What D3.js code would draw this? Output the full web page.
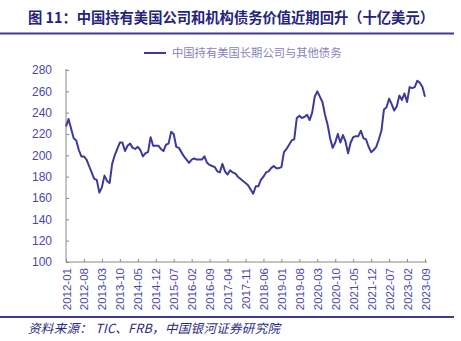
<!DOCTYPE html>
<html><head><meta charset="utf-8">
<script src="https://cdn.jsdelivr.net/npm/d3@7"></script>
<style>body{margin:0;background:#fff;} svg{display:block;}</style>
</head><body><svg id="c" width="461" height="341"></svg>
<script>
const title = "图 11：中国持有美国公司和机构债务价值近期回升（十亿美元）";
const seriesName = "中国持有美国长期公司与其他债务";
const source = "资料来源：  TIC、FRB，中国银河证券研究院";
const startYear = 2012, startMonth = 1;
const values = [
  227,234,225,216,214,205,199,199,196,190,184,178,
  177,165,170,181,176,174,192,200,206,212,212,204,
  209,211,207,206,208,205,199,202,203,217,209,209,
  209,206,204,210,211,222,220,208,207,203,199,196,
  193,196,197,196,196,196,199,193,191,190,189,185,
  184,192,185,182,186,184,183,180,178,176,174,172,
  168,164,171,171,177,180,184,185,188,190,188,188,
  189,203,206,210,214,215,235,237,235,236,238,233,
  240,255,260,255,250,238,229,216,207,212,220,212,
  219,213,202,212,217,218,218,223,216,215,208,203,
  205,208,215,223,243,245,253,248,242,246,256,252,
  258,250,264,263,264,270,268,264,255
];
const yTicks = [100,120,140,160,180,200,220,240,260,280];
const xTickStep = 7;

const months = values.map((v,i)=>{
  const t = (startMonth-1)+i; const y = startYear+Math.floor(t/12); const m = t%12+1;
  return y+"-"+(m<10?"0"+m:m);
});
const xTickIdx = d3.range(0, values.length, xTickStep);

const svg = d3.select("#c");
const L=66, R=425, T=70, B=262;
const x = d3.scaleLinear().domain([0, values.length-1]).range([L,R]);
const y = d3.scaleLinear().domain([100,280]).range([B,T]);
const blue = "#3d3a98";

// title
svg.append("text").attr("x",28).attr("y",23).attr("font-family","'Noto Sans CJK SC', sans-serif")
  .attr("font-size",14.3).attr("font-weight","bold").attr("fill","#25237e")
  .attr("textLength",406).attr("lengthAdjust","spacing").text(title);
svg.append("line").attr("x1",0).attr("x2",454).attr("y1",33.5).attr("y2",33.5).attr("stroke",blue).attr("stroke-width",2);

// legend
svg.append("line").attr("x1",144).attr("x2",166).attr("y1",53).attr("y2",53).attr("stroke",blue).attr("stroke-width",2);
svg.append("text").attr("x",172).attr("y",57).attr("font-family","'Noto Sans CJK SC', sans-serif")
  .attr("font-size",11.3).attr("fill","#8684b8").text(seriesName);

// y axis
const ya = svg.append("g").attr("transform",`translate(${L},0)`)
  .call(d3.axisRight(y).tickValues(yTicks).tickSize(3).tickFormat(d3.format("d")));
ya.select(".domain").attr("stroke","#888").attr("d",`M0,${T-1}V${B}`);
ya.selectAll(".tick line").attr("stroke","#888");
ya.selectAll(".tick text").attr("x",-14).attr("text-anchor","end").attr("fill","#4b48a8")
  .attr("font-family","Arial, 'Liberation Sans', sans-serif").attr("font-size",12);

// x axis
const xa = svg.append("g").attr("transform",`translate(0,${B})`)
  .call(d3.axisTop(x).tickValues(xTickIdx).tickSize(3).tickFormat(i=>months[i]));
xa.select(".domain").attr("stroke","#888").attr("d",`M${L},0H${R+2}`);
xa.selectAll(".tick line").attr("stroke","#888");
xa.selectAll(".tick text").attr("fill","#4b48a8")
  .attr("font-family","Arial, 'Liberation Sans', sans-serif").attr("font-size",11.5)
  .attr("transform","rotate(-90)").attr("text-anchor","end").attr("x",-6).attr("y",0).attr("dy","0.35em");

// line
svg.append("path").datum(values).attr("fill","none").attr("stroke",blue).attr("stroke-width",2)
  .attr("stroke-linejoin","round")
  .attr("d", d3.line().x((d,i)=>x(i)).y(d=>y(d)));

// bottom
svg.append("line").attr("x1",0).attr("x2",454).attr("y1",317).attr("y2",317).attr("stroke",blue).attr("stroke-width",2);
svg.append("text").attr("x",28).attr("y",333).attr("font-family","'Noto Sans CJK SC', sans-serif")
  .attr("font-size",12.5).attr("font-style","italic").attr("fill","#2a2a80")
  .attr("textLength",252).attr("lengthAdjust","spacing").text(source);
</script></body></html>
